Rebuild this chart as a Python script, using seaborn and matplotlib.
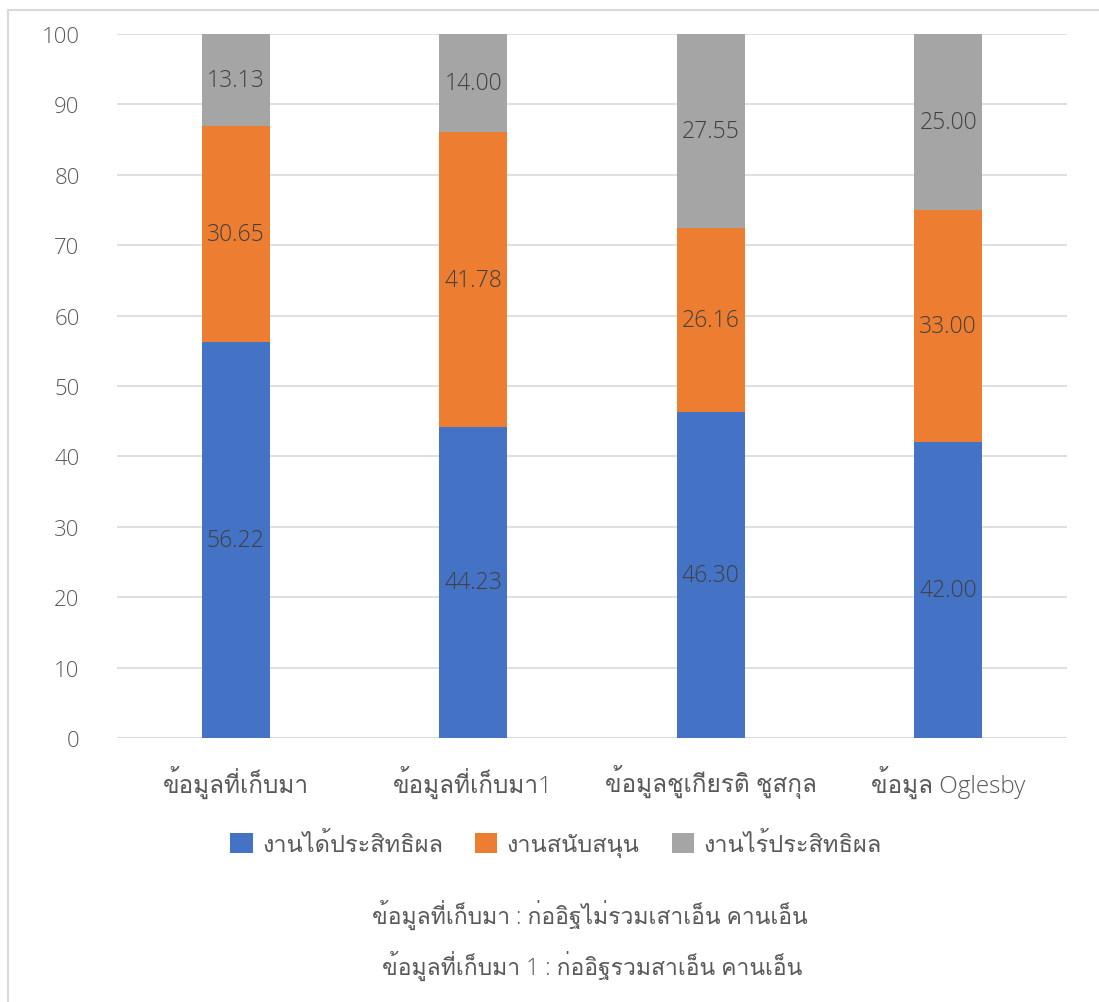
import matplotlib
matplotlib.use("Agg")
import matplotlib.pyplot as plt
import seaborn as sns
import pandas as pd
import numpy as np
from matplotlib import font_manager
from matplotlib.patches import Rectangle
from matplotlib.lines import Line2D

categories = ["ข้อมูลที่เก็บมา", "ข้อมูลที่เก็บมา1", "ข้อมูลชูเกียรติ ชูสกุล", "ข้อมูล Oglesby"]
effective = [56.22, 44.23, 46.30, 42.00]
supportive = [30.65, 41.78, 26.16, 33.00]
ineffective = [13.13, 14.00, 27.55, 25.00]
series_names = ["งานได้ประสิทธิผล", "งานสนับสนุน", "งานไร้ประสิทธิผล"]
notes = ["ข้อมูลที่เก็บมา : ก่ออิฐไม่รวมเสาเอ็น คานเอ็น",
         "ข้อมูลที่เก็บมา 1 : ก่ออิฐรวมสาเอ็น คานเอ็น"]
colors = ["#4472C4", "#ED7D31", "#A5A5A5"]


def find_thai_fonts():
    found = []
    try:
        from fontTools.ttLib import TTFont
    except Exception:
        return found
    for f in font_manager.fontManager.ttflist:
        try:
            tt = TTFont(f.fname, fontNumber=0, lazy=True)
            cmap = tt.getBestCmap()
            if cmap and 0x0E01 in cmap and 0x0E49 in cmap and 0x0E35 in cmap:
                if f.name not in found:
                    found.append(f.name)
        except Exception:
            pass
    return found


def find_light_latin():
    for name in ["Open Sans", "Lato", "Roboto", "Noto Sans", "Inter"]:
        for f in font_manager.fontManager.ttflist:
            if f.name == name and isinstance(f.weight, int) and f.weight <= 300 and f.style == "normal":
                return name
    return None


sns.set_theme(style="white")
thai = find_thai_fonts()
light = find_light_latin()
fam = ([light] if light else []) + thai[:1] + ["DejaVu Sans"]
plt.rcParams["font.family"] = fam
plt.rcParams["font.weight"] = "light" if light else "normal"

W, H = 1099, 1003
fig = plt.figure(figsize=(W / 100, H / 100), dpi=100)
ax = fig.add_axes([117 / W, 1 - 739 / H, (1067 - 117) / W, (739 - 35) / H])

df = pd.DataFrame({"cat": categories, "eff": effective, "sup": supportive, "ine": ineffective})
bottoms = [np.zeros(len(df)), np.array(effective), np.array(effective) + np.array(supportive)]
cols = ["eff", "sup", "ine"]
for i, c in enumerate(cols):
    sns.barplot(data=df, x="cat", y=c, bottom=bottoms[i], color=colors[i], width=0.286,
                saturation=1, ax=ax, edgecolor="none", linewidth=0)
for i, cont in enumerate(ax.containers):
    vals = df[cols[i]].tolist()
    ax.bar_label(cont, labels=[f"{v:.2f}" for v in vals], label_type="center",
                 color="#404040", fontsize=16.5)

ax.set_ylim(0, 100)
ax.set_xlim(-0.5, 3.5)
ax.set_yticks(np.arange(0, 101, 10))
ax.yaxis.grid(True, color="#D9D9D9", linewidth=1.2)
ax.set_axisbelow(True)
for s in ax.spines.values():
    s.set_visible(False)
ax.axhline(0, color="#D9D9D9", linewidth=1.2, zorder=0.5)
ax.set_xlabel("")
ax.set_ylabel("")
ax.tick_params(axis="y", colors="#595959", labelsize=16, length=0, pad=27)
ax.tick_params(axis="x", colors="#595959", labelsize=17.5, length=0, pad=19)

handles = [Rectangle((0, 0), 1, 1, facecolor=colors[i], edgecolor="none") for i in range(3)]
fig.legend(handles, series_names, loc="center", bbox_to_anchor=(556 / W, 1 - 846 / H), ncol=3,
           frameon=False, fontsize=17, labelcolor="#595959", handlelength=0.95, handleheight=0.95,
           handletextpad=0.4, columnspacing=1.35)

fig.text(590 / W, 1 - 915 / H, notes[0], ha="center", va="center", fontsize=16.5, color="#595959")
fig.text(592 / W, 1 - 966 / H, notes[1], ha="center", va="center", fontsize=16.5, color="#595959")

fig.add_artist(Line2D([8 / W, 8 / W], [-0.05, 1 - 11 / H], transform=fig.transFigure,
                      color="#D9D9D9", linewidth=1.5))
fig.add_artist(Line2D([8 / W, 1.05], [1 - 11 / H, 1 - 11 / H], transform=fig.transFigure,
                      color="#D9D9D9", linewidth=1.5))

fig.savefig("out.png", dpi=100)
